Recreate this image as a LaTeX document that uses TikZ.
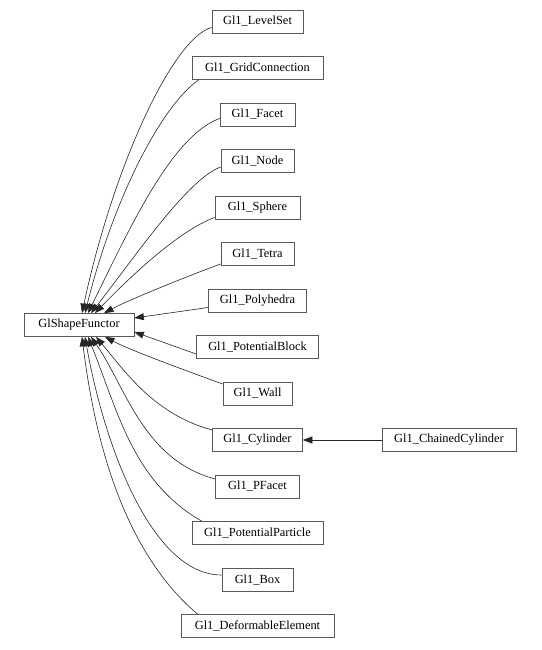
\documentclass[tikz,border=0pt]{standalone}
\usepackage{fontspec}
\setmainfont{Liberation Serif}
\usetikzlibrary{arrows.meta}
\begin{document}
\begin{tikzpicture}[x=1pt,y=1pt,
  cls/.style={draw=black!65,line width=0.7pt,fill=white,inner xsep=2pt,inner ysep=0pt,
    minimum height=23pt,font=\fontsize{12.4}{14}\selectfont},
  inh/.style={draw=black!85,line width=0.6pt,-{Triangle[length=9.5pt,width=7pt]}}]
\useasboundingbox (0,0) rectangle (541,650);
\fill[white] (0,0) rectangle (541,650);
\node[cls,minimum width=110pt] (base) at (79,325) {GlShapeFunctor};
\node[cls,minimum width=91pt]  (c0)  at (257.5,628.5) {Gl1\_LevelSet};
\node[cls,minimum width=131pt] (c1)  at (257.5,582)   {Gl1\_GridConnection};
\node[cls,minimum width=75pt]  (c2)  at (257.5,535.5) {Gl1\_Facet};
\node[cls,minimum width=73pt]  (c3)  at (257.5,489)   {Gl1\_Node};
\node[cls,minimum width=85pt]  (c4)  at (257.5,442.5) {Gl1\_Sphere};
\node[cls,minimum width=73pt]  (c5)  at (257.5,396)   {Gl1\_Tetra};
\node[cls,minimum width=98pt]  (c6)  at (257.5,349.5) {Gl1\_Polyhedra};
\node[cls,minimum width=122pt] (c7)  at (257.5,303)   {Gl1\_PotentialBlock};
\node[cls,minimum width=69pt]  (c8)  at (257.5,256.5) {Gl1\_Wall};
\node[cls,minimum width=90pt]  (c9)  at (257.5,210)   {Gl1\_Cylinder};
\node[cls,minimum width=84pt]  (c10) at (257.5,163.5) {Gl1\_PFacet};
\node[cls,minimum width=131pt] (c11) at (257.5,117)   {Gl1\_PotentialParticle};
\node[cls,minimum width=71pt]  (c12) at (257.5,70.5)  {Gl1\_Box};
\node[cls,minimum width=153pt] (c13) at (257.5,24)    {Gl1\_DeformableElement};
\node[cls,minimum width=134pt] (cc)  at (449,210)     {Gl1\_ChainedCylinder};
% upper fan
\draw[inh] ([yshift=-6pt]c0.west) .. controls +(195:40) and +(78:150) .. ([xshift=3pt]base.north);
\draw[inh] ([xshift=7pt]c1.south west) .. controls +(215:45) and +(76:120) .. ([xshift=6pt]base.north);
\draw[inh] ([yshift=-4pt]c2.west) .. controls +(200:50) and +(64:100) .. ([xshift=9pt]base.north);
\draw[inh] ([yshift=-6pt]c3.west) .. controls +(200:35) and +(52:72) .. ([xshift=12pt]base.north);
\draw[inh] ([yshift=-10pt]c4.west) .. controls +(200:38) and +(46:50) .. ([xshift=16pt]base.north);
\draw[inh] ([yshift=-10pt]c5.west) .. controls +(200:30) and +(28:30) .. ([xshift=25pt]base.north);
\draw[inh] ([yshift=-7pt]c6.west) -- ([yshift=7pt]base.east);
% lower fan
\draw[inh] ([yshift=-7pt]c7.west) -- ([yshift=-7pt]base.east);
\draw[inh] ([yshift=9.5pt]c8.west) .. controls +(160:30) and +(-28:30) .. ([xshift=26pt]base.south);
\draw[inh] ([yshift=10pt]c9.west) .. controls +(165:60) and +(-50:45) .. ([xshift=17pt]base.south);
\draw[inh] ([yshift=7.5pt]c10.west) .. controls +(165:75) and +(-55:60) .. ([xshift=12pt]base.south);
\draw[inh] ([xshift=10pt]c11.north west) .. controls +(150:80) and +(-68:80) .. ([xshift=9pt]base.south);
\draw[inh] ([yshift=4.5pt]c12.west) .. controls +(180:70) and +(-80:110) .. ([xshift=6pt]base.south);
\draw[inh] ([xshift=17pt]c13.north west) .. controls +(140:70) and +(-83:150) .. ([xshift=3pt]base.south);
\draw[inh] (cc.west) -- (c9.east);
\end{tikzpicture}
\end{document}
